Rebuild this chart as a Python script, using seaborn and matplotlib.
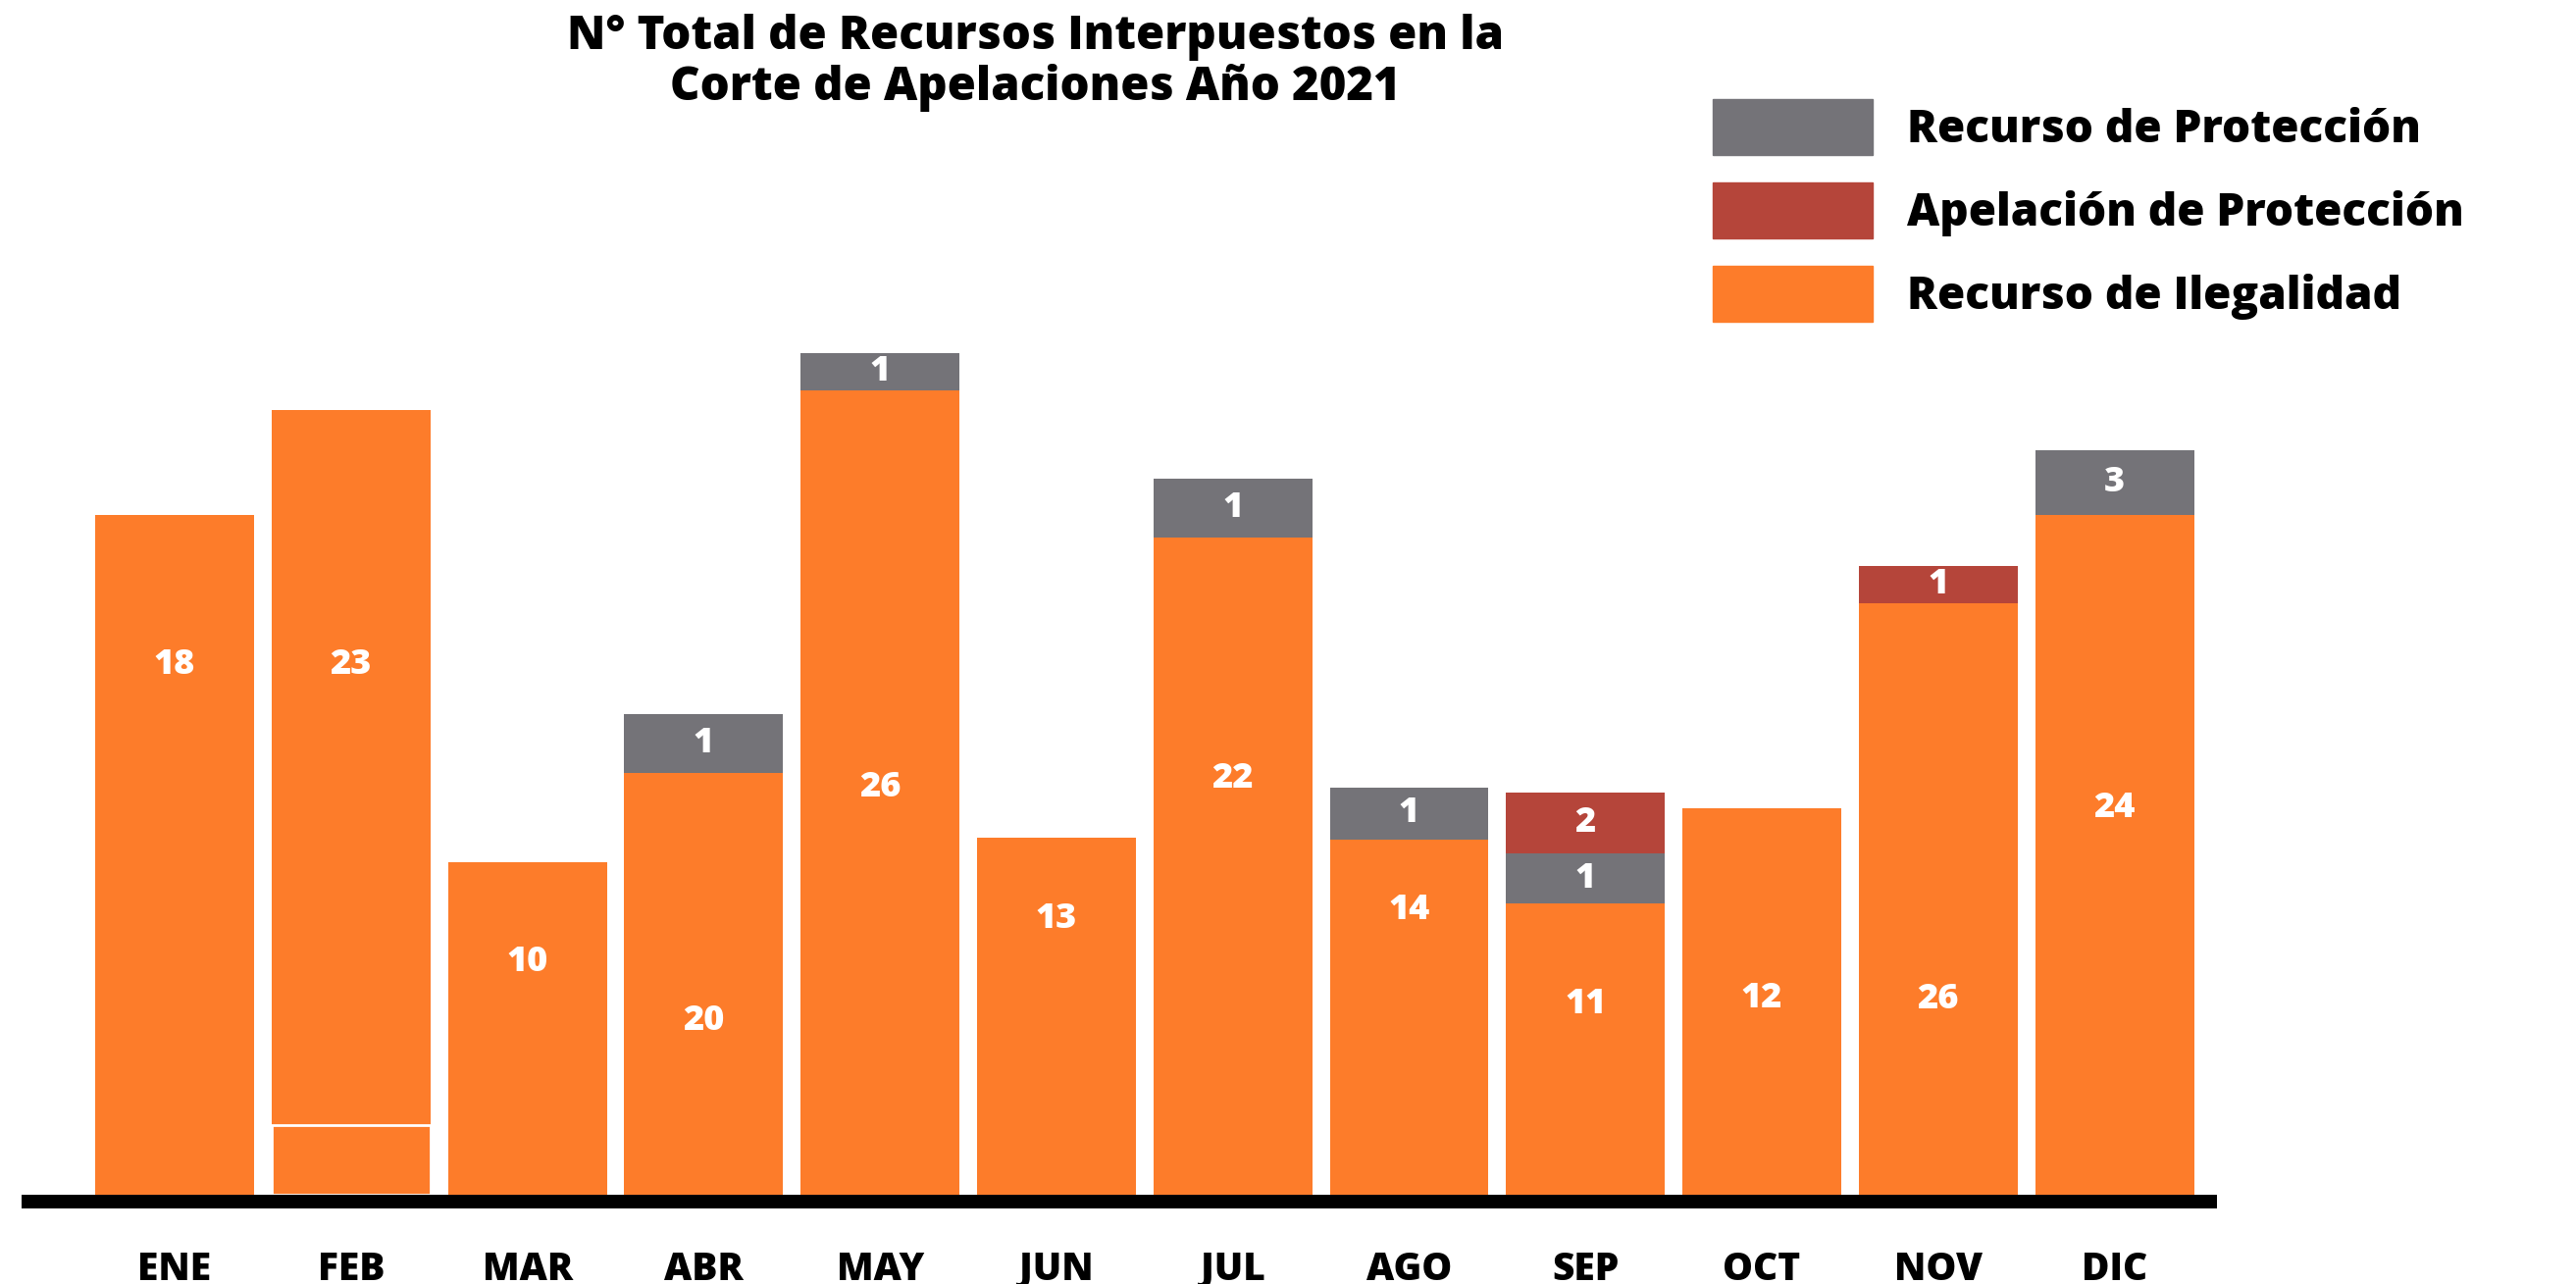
import matplotlib
matplotlib.use("Agg")
import matplotlib.pyplot as plt
from matplotlib.patches import Patch
import seaborn as sns
import numpy as np

# Datos
meses = ['ENE', 'FEB', 'MAR', 'ABR', 'MAY', 'JUN', 'JUL', 'AGO', 'SEP', 'OCT', 'NOV', 'DIC']
ilegalidad = [18, 23, 10, 20, 26, 13, 22, 14, 11, 12, 26, 24]
proteccion = [0, 0, 0, 1, 1, 0, 1, 1, 1, 0, 0, 3]
apelacion = [0, 0, 0, 0, 0, 0, 0, 0, 2, 0, 1, 0]

# el original no esta a escala: alturas tal como se ven en la imagen
alto_ilegalidad = [41.4, 47.75, 20.25, 25.65, 48.98, 21.75, 40.0, 21.6, 17.75, 23.55, 36.0, 41.4]
alto_proteccion = [0, 0, 0, 3.6, 2.27, 0, 3.6, 3.2, 3.0, 0, 0, 3.9]
alto_apelacion = [0, 0, 0, 0, 0, 0, 0, 0, 3.7, 0, 2.27, 0]
alto_tramo_inferior = [0, 4.26, 0, 0, 0, 0, 0, 0, 0, 0, 0, 0]  # corte blanco en FEB

# altura de las etiquetas naranjas (posicion, no dato)
pos_etiqueta = [32.25, 32.25, 14.15, 10.55, 24.75, 16.75, 25.3, 17.3, 11.55, 11.95, 11.85, 23.55]

NARANJA = '#FD7C2A'
GRIS = '#747378'
ROJO = '#B5453A'

sns.set_theme(style='white')
plt.rcParams['font.family'] = ['Open Sans', 'DejaVu Sans']
plt.rcParams['text.color'] = 'black'
plt.rcParams['xtick.color'] = 'black'

fig = plt.figure(figsize=(26.26, 13.09), dpi=100)
ax = fig.add_axes([0.00838, 0.0642, 0.8522, 0.7858])

naranja = np.array(alto_ilegalidad)
gris = np.array(alto_proteccion)
rojo = np.array(alto_apelacion)
tope_gris = np.where(gris > 0, naranja + gris, 0)
tope_rojo = np.where(rojo > 0, naranja + gris + rojo, 0)

kw = dict(x=meses, width=0.9, saturation=1, errorbar=None, linewidth=0, ax=ax)
sns.barplot(y=tope_rojo, color=ROJO, **kw)
sns.barplot(y=tope_gris, color=GRIS, **kw)
sns.barplot(y=naranja, color=NARANJA, **kw)
tramo = np.array(alto_tramo_inferior)
for i, h in enumerate(tramo):
    if h > 0:
        ax.bar(i, h, width=0.9, color=NARANJA, edgecolor='white', linewidth=2, zorder=1.5)

# etiquetas de valores
etq = dict(color='white', fontsize=26, fontweight='heavy', ha='center', va='center')
for i in range(len(meses)):
    ax.text(i, pos_etiqueta[i], str(ilegalidad[i]), **etq)
    if proteccion[i]:
        ax.text(i, naranja[i] + gris[i] / 2, str(proteccion[i]), **etq)
    if apelacion[i]:
        ax.text(i, naranja[i] + gris[i] + rojo[i] / 2, str(apelacion[i]), **etq)

ax.set_xlim(-0.868, 11.58)
ax.set_ylim(-0.42, 61.0)
ax.set_xlabel('')
ax.set_ylabel('')
ax.set_yticks([])
ax.set_xticks(range(len(meses)))
ax.set_xticklabels(meses, fontsize=28, fontweight='heavy', color='black')
ax.tick_params(axis='x', length=0, pad=36)
for s in ['top', 'right', 'left']:
    ax.spines[s].set_visible(False)
ax.spines['bottom'].set_linewidth(10)
ax.spines['bottom'].set_color('black')
ax.spines['bottom'].set_capstyle('butt')

fig.text(0.402, 0.989, 'N° Total de Recursos Interpuestos en la\nCorte de Apelaciones Año 2021',
         ha='center', va='top', fontsize=34, fontweight='heavy', linespacing=1.08)

handles = [Patch(color=GRIS, label='Recurso de Protección'),
           Patch(color=ROJO, label='Apelación de Protección'),
           Patch(color=NARANJA, label='Recurso de Ilegalidad')]
leg = fig.legend(handles=handles, loc='upper left', bbox_to_anchor=(0.6649, 0.9228),
                 frameon=False, prop={'weight': 'heavy', 'size': 33},
                 handlelength=3.56, handleheight=1.536, labelspacing=0.61,
                 handletextpad=0.75, borderpad=0, borderaxespad=0)

fig.savefig('out.png', dpi=100, facecolor='white')
